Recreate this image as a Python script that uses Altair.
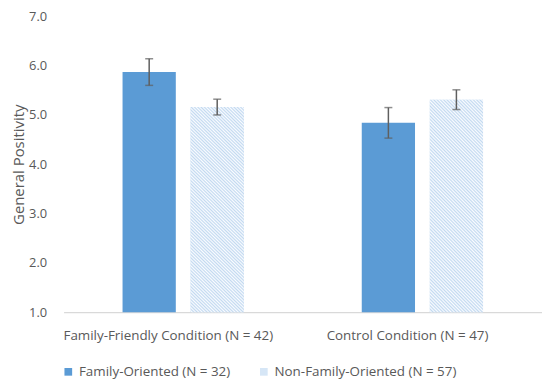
import altair as alt
import pandas as pd

conditions = ["Family-Friendly Condition (N = 42)", "Control Condition (N = 47)"]
groups = ["Family-Oriented (N = 32)", "Non-Family-Oriented (N = 57)"]
means_fo = [5.87, 4.84]
means_nfo = [5.16, 5.31]
err_fo = [0.27, 0.31]
err_nfo = [0.16, 0.20]

rows = []
for i, c in enumerate(conditions):
    rows.append({"cond": c, "group": groups[0], "mean": means_fo[i], "err": err_fo[i]})
    rows.append({"cond": c, "group": groups[1], "mean": means_nfo[i], "err": err_nfo[i]})
df = pd.DataFrame(rows)
df["lo"] = df["mean"] - df["err"]
df["hi"] = df["mean"] + df["err"]
df["base"] = 1.0

FONT = "Open Sans"
TXT = "#595959"
SOLID = "#5b9bd5"
LIGHT = "#d6e6f6"

# diagonal hatch approximated with a repeating linear gradient (style only)
r = 213 / 54
a = (1 + r) / (1 + r * r)
n_per = 80
stops = []
for k in range(n_per):
    stops.append(alt.GradientStop(offset=k / n_per, color="#c2d9f0"))
    stops.append(alt.GradientStop(offset=(k + 0.5) / n_per, color="#fafcff"))
stops.append(alt.GradientStop(offset=1.0, color="#c2d9f0"))
hatch = alt.LinearGradient(gradient="linear", stops=stops,
                           x1=0, y1=1, x2=a, y2=1 - a * r)

x_enc = alt.X("cond:N", sort=conditions, title=None,
              scale=alt.Scale(paddingInner=0.493, paddingOuter=0.2465))
x_plain = alt.X("cond:N", sort=conditions, title=None)
xo_enc = alt.XOffset("group:N", sort=groups,
                     scale=alt.Scale(paddingInner=0.217, paddingOuter=0))
y_scale = alt.Scale(domain=[1, 7], zero=False, nice=False)

bars = alt.Chart(df).mark_bar().encode(
    x=x_enc,
    xOffset=xo_enc,
    y=alt.Y("mean:Q", scale=y_scale, title="General Positivity",
            axis=alt.Axis(values=[1, 2, 3, 4, 5, 6, 7], format=".1f")),
    y2="base:Q",
    color=alt.Color("group:N", sort=groups,
                    scale=alt.Scale(domain=groups, range=[SOLID, LIGHT]),
                    legend=alt.Legend(title=None, orient="none", direction="horizontal",
                                      legendX=-2, legendY=351, symbolType="square",
                                      symbolSize=60, symbolStrokeWidth=0,
                                      labelFont=FONT, labelFontSize=13.5,
                                      labelColor=TXT, labelOffset=4, labelLimit=400,
                                      columnPadding=26)),
)

hatched = alt.Chart(df).transform_filter(
    alt.datum.group == groups[1]
).mark_bar(fill=hatch).encode(
    x=x_plain,
    xOffset=xo_enc,
    y=alt.Y("mean:Q", scale=y_scale, title="General Positivity"),
    y2="base:Q",
)

rules = alt.Chart(df).mark_rule(color="#5f5f5f", strokeWidth=1.5).encode(
    x=x_plain,
    xOffset=xo_enc,
    y=alt.Y("lo:Q", scale=y_scale, title="General Positivity"),
    y2="hi:Q",
)
caps_lo = alt.Chart(df).mark_tick(color="#5f5f5f", thickness=1.5, size=8).encode(
    x=x_plain,
    xOffset=xo_enc,
    y=alt.Y("lo:Q", scale=y_scale, title="General Positivity"),
)
caps_hi = alt.Chart(df).mark_tick(color="#5f5f5f", thickness=1.5, size=8).encode(
    x=x_plain,
    xOffset=xo_enc,
    y=alt.Y("hi:Q", scale=y_scale, title="General Positivity"),
)

chart = alt.layer(bars, hatched, rules, caps_lo, caps_hi).properties(
    width=482, height=298,
    autosize=alt.AutoSizeParams(type="none"),
    padding={"left": 56, "top": 7, "right": 0, "bottom": 75},
).configure_view(
    stroke=None
).configure_axisX(
    labelAngle=0, ticks=False, tickSize=0, labelPadding=17, labelLimit=400,
    labelOffset=-15,
    domainColor="#d9d9d9", domainWidth=1.2, grid=False,
    labelFont=FONT, labelFontSize=13.5, labelColor=TXT,
).configure_axisY(
    grid=False, domain=False, ticks=False, tickSize=0, labelPadding=17,
    labelFont=FONT, labelFontSize=13, labelColor=TXT,
    titleFont=FONT, titleFontSize=15, titleColor=TXT,
    titleFontWeight="normal", titlePadding=2,
)

chart.save("out.html", embed_options={"renderer": "svg", "actions": False})
